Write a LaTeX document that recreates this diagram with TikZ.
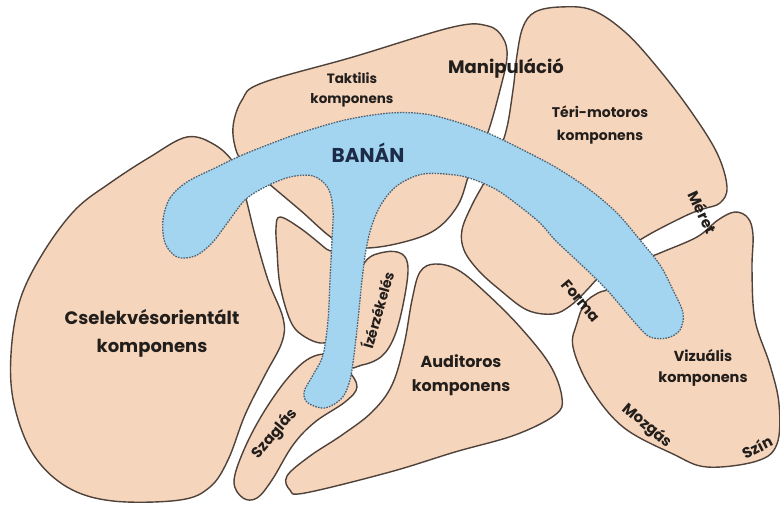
\documentclass[tikz,border=0pt]{standalone}
\usepackage{fontspec}
\setmainfont{Poppins}
\definecolor{peach}{HTML}{F6D5BD}
\definecolor{outl}{HTML}{4F423A}
\definecolor{banana}{HTML}{A3D5F0}
\definecolor{bedge}{HTML}{4F6272}
\definecolor{txt}{HTML}{221E1B}
\definecolor{navy}{HTML}{1C2B47}
\begin{document}
\begin{tikzpicture}[x=1pt,y=-1pt,
  blob/.style={fill=peach,draw=outl,line width=1.4pt},
  bananastyle/.style={fill=banana,draw=bedge,line width=1.3pt,dash pattern=on 1.6pt off 1.2pt},
  lbl/.style={text=txt,font=\bfseries\fontsize{#1}{#1}\selectfont,align=center,inner sep=0pt},
  lbl/.default=15]
\useasboundingbox (0,0) rectangle (780,508);
% Cselekvesorientalt
\draw[blob] plot[smooth cycle,tension=0.6] coordinates {(187,137) (215,145) (235,165) (245,195) (255,235) (268,280) (283,318) (282,342) (265,375) (245,415) (228,460) (210,487) (180,500) (113,501) (67,487) (33,454) (14,404) (11,354) (20,300) (43,253) (75,210) (110,183) (150,157)};
% Taktilis
\draw[blob] plot[smooth cycle,tension=0.6] coordinates {(237,153) (233,127) (242,100) (262,83) (353,57) (453,27) (488,26) (503,38) (507,57) (500,90) (487,135) (470,172) (458,205) (435,230) (400,243) (362,248) (335,240) (300,210) (268,183) (247,165)};
% inner blob
\draw[blob] plot[smooth cycle,tension=0.6] coordinates {(280,217) (300,228) (325,248) (340,262) (338,330) (323,343) (302,335) (290,320) (280,285) (277,250) (276,228)};
% Szaglas
\draw[blob] plot[smooth cycle,tension=0.6] coordinates {(243,498) (234,482) (243,452) (262,415) (287,379) (310,358) (332,355) (348,370) (357,387) (345,402) (315,422) (293,445) (272,480) (257,498)};
% Izerzekeles
\draw[blob] plot[smooth cycle,tension=0.6] coordinates {(365,262) (385,252) (402,254) (408,268) (404,300) (395,335) (382,356) (362,365) (348,362) (350,300)};
% Auditoros
\draw[blob] plot[smooth cycle,tension=0.6] coordinates {(290,490) (287,476) (310,456) (342,435) (372,412) (392,385) (404,345) (412,300) (420,272) (435,264) (458,270) (485,292) (520,327) (550,365) (562,398) (555,415) (515,435) (455,452) (390,472) (305,493)};
% Teri-motoros
\draw[blob] plot[smooth cycle,tension=0.6] coordinates {(523,27) (535,12) (560,7) (592,10) (625,32) (657,67) (690,110) (717,153) (727,187) (720,203) (703,209) (683,217) (640,240) (615,262) (598,278) (585,292) (570,306) (553,314) (527,310) (500,290) (478,270) (464,250) (462,230) (472,205) (488,175) (505,135) (513,90) (517,55)};
% Vizualis
\draw[blob] plot[smooth cycle,tension=0.6] coordinates {(577,323) (585,303) (598,293) (612,287) (640,262) (660,253) (697,237) (718,220) (735,212) (748,218) (753,235) (752,270) (755,320) (770,365) (779,404) (777,444) (757,461) (707,467) (673,454) (623,427) (590,387) (573,347)};
% Banana
\draw[bananastyle] plot[smooth cycle,tension=0.55] coordinates {(163,220) (170,198) (187,182) (215,168) (240,156) (270,144) (300,133) (345,120) (390,113) (425,114) (457,122) (490,134) (523,150) (557,168) (590,190) (617,213) (640,240) (660,265) (673,290) (683,313) (680,330) (667,338) (650,337) (637,325) (620,305) (607,290) (590,273) (573,257) (555,240) (540,223) (518,205) (497,190) (475,180) (455,175) (423,174) (398,185) (382,203) (372,225) (366,250) (362,280) (358,320) (354,355) (350,380) (342,398) (325,408) (308,403) (304,392) (313,375) (323,355) (328,320) (330,280) (332,240) (333,210) (328,188) (313,176) (290,177) (265,187) (245,200) (228,222) (212,243) (195,256) (177,257) (165,243)};
% Labels
\node[lbl=18] (csel) at (152,333) {Cselekvésorientált\\[10pt]komponens};
\node[lbl=13.5] (tak) at (352,90) {Taktilis\\[6pt]komponens};
\node[lbl=18] (man) at (506,68) {Manipuláció};
\node[lbl=14] (teri) at (600,125) {Téri-motoros\\[9pt]komponens};
\node[lbl=20,text=navy] (ban) at (368,153) {BANÁN};
\node[lbl=15,rotate=-65] (meret) at (703,212) {Méret};
\node[lbl=15,rotate=-50] (forma) at (581,301) {Forma};
\node[lbl=14.5] (viz) at (703,368) {Vizuális\\[7pt]komponens};
\node[lbl=15,rotate=-40] (mozg) at (647,426) {Mozgás};
\node[lbl=15,rotate=27] (szin) at (757,447) {Szín};
\node[lbl=16] (aud) at (461,375) {Auditoros\\[8pt]komponens};
\node[lbl=15,rotate=50] (szag) at (275,434) {Szaglás};
\node[lbl=14,rotate=74] (iz) at (377,310) {Ízérzékelés};
\end{tikzpicture}
\end{document}
